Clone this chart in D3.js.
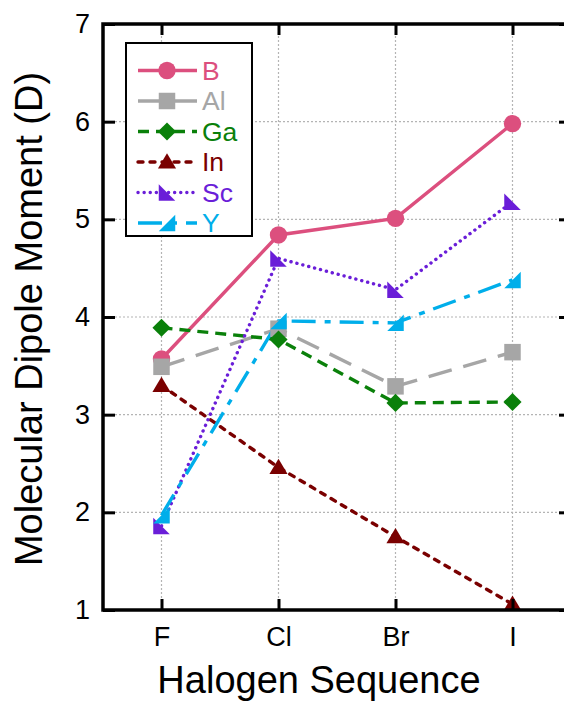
<!DOCTYPE html>
<html>
<head>
<meta charset="utf-8">
<script src="https://cdn.jsdelivr.net/npm/d3@7/dist/d3.min.js"></script>
<style>
  body { margin: 0; background: #fff; }
  svg { display: block; font-family: "Liberation Sans", Arial, sans-serif; }
</style>
</head>
<body>
<svg id="chart" width="564" height="706"></svg>
<script>
// Halogen sequence along the x axis
const halogens = ["F", "Cl", "Br", "I"];
const yTicks = [1, 2, 3, 4, 5, 6, 7];

// Molecular dipole moment (D) per central atom
const valuesB  = [3.57, 4.84, 5.01, 5.98];
const valuesAl = [3.49, 3.88, 3.29, 3.64];
const valuesGa = [3.89, 3.77, 3.12, 3.13];
const valuesIn = [3.30, 2.46, 1.75, 1.06];
const valuesSc = [1.86, 4.60, 4.28, 5.18];
const valuesY  = [1.97, 3.96, 3.94, 4.38];

const seriesNames = ["B", "Al", "Ga", "In", "Sc", "Y"];

const series = [
  { name: "B",  values: valuesB,  color: "#dc4f7e", dash: null,        cap: "butt",  marker: "circle" },
  { name: "Al", values: valuesAl, color: "#a6a6a6", dash: "24,12",     cap: "butt",  marker: "square" },
  { name: "Ga", values: valuesGa, color: "#0a800a", dash: "11,7",      cap: "butt",  marker: "diamond" },
  { name: "In", values: valuesIn, color: "#7a0000", dash: "5,7",       cap: "round", marker: "triUp" },
  { name: "Sc", values: valuesSc, color: "#6a1ed8", dash: "0.1,6",     cap: "round", marker: "triSW" },
  { name: "Y",  values: valuesY,  color: "#00aeea", dash: "24,9,6,9",  cap: "butt",  marker: "triSE" }
];

const svg = d3.select("#chart");
const plotLeft = 103, plotRight = 571, plotTop = 24, plotBottom = 610;

const x = d3.scaleLinear().domain([0.5, 4.5]).range([plotLeft, plotRight]);
const y = d3.scaleLinear().domain([1, 7]).range([plotBottom, plotTop]);

// dotted grid
const grid = svg.append("g").attr("stroke", "#b4b4b4").attr("stroke-width", 1.2)
  .attr("stroke-dasharray", "2,2");
halogens.forEach((h, i) => {
  grid.append("line").attr("x1", x(i + 1)).attr("x2", x(i + 1))
    .attr("y1", plotTop).attr("y2", plotBottom);
});
yTicks.slice(1, -1).forEach(v => {
  grid.append("line").attr("x1", plotLeft).attr("x2", plotRight)
    .attr("y1", y(v)).attr("y2", y(v));
});

// marker shapes
function markerPath(type, s) {
  const h = s / 2;
  switch (type) {
    case "square": return `M${-h},${-h}H${h}V${h}H${-h}Z`;
    case "diamond": { const d = s * 0.55; return `M0,${-d}L${d},0L0,${d}L${-d},0Z`; }
    case "triUp": return `M0,${-h * 1.05}L${h * 1.1},${h * 0.8}L${-h * 1.1},${h * 0.8}Z`;
    case "triSW": return `M${-h},${-h}L${-h},${h}L${h},${h}Z`;
    case "triSE": return `M${h},${-h}L${h},${h}L${-h},${h}Z`;
  }
  return null;
}
function drawMarker(g, s, cx, cy) {
  if (s.marker === "circle") {
    g.append("circle").attr("cx", cx).attr("cy", cy).attr("r", 8.7).attr("fill", s.color);
  } else {
    g.append("path").attr("d", markerPath(s.marker, 16.5))
      .attr("transform", `translate(${cx},${cy})`).attr("fill", s.color);
  }
}

// series lines and markers
const line = d3.line().x((d, i) => x(i + 1)).y(d => y(d));
const plot = svg.append("g");
series.forEach(s => {
  plot.append("path").datum(s.values).attr("d", line)
    .attr("fill", "none").attr("stroke", s.color).attr("stroke-width", 3.4)
    .attr("stroke-linecap", s.cap)
    .attr("stroke-dasharray", s.dash);
});
series.forEach(s => {
  s.values.forEach((v, i) => drawMarker(plot, s, x(i + 1), y(v)));
});

// frame and axes
const axes = svg.append("g").attr("stroke", "#000").attr("stroke-width", 3.5);
axes.append("rect").attr("x", plotLeft).attr("y", plotTop)
  .attr("width", plotRight - plotLeft).attr("height", plotBottom - plotTop).attr("fill", "none");

const xAxis = d3.axisBottom(x).tickValues([1, 2, 3, 4])
  .tickFormat((d) => halogens[d - 1]).tickSizeInner(-11).tickSizeOuter(0).tickPadding(17);
const xg = svg.append("g").attr("transform", `translate(0,${plotBottom})`).call(xAxis);
const xTop = d3.axisTop(x).tickValues([1, 2, 3, 4]).tickFormat("").tickSizeInner(-11).tickSizeOuter(0);
const xtg = svg.append("g").attr("transform", `translate(0,${plotTop})`).call(xTop);

const yAxis = d3.axisLeft(y).tickValues(yTicks).tickFormat(d3.format("d"))
  .tickSizeInner(-12).tickSizeOuter(0).tickPadding(13);
const yg = svg.append("g").attr("transform", `translate(${plotLeft},0)`).call(yAxis);
const yRight = d3.axisRight(y).tickValues(yTicks).tickFormat("").tickSizeInner(-12).tickSizeOuter(0);
const yrg = svg.append("g").attr("transform", `translate(${plotRight},0)`).call(yRight);

[xg, xtg, yg, yrg].forEach(g => {
  g.select(".domain").remove();
  g.selectAll(".tick line").attr("stroke", "#000").attr("stroke-width", 3);
  g.selectAll("text").attr("font-size", 27).attr("fill", "#000")
    .attr("font-family", "'Liberation Sans', Arial, sans-serif");
});

// axis titles
svg.append("text").attr("x", 319).attr("y", 693).attr("text-anchor", "middle")
  .attr("font-size", 38).attr("fill", "#000").text("Halogen Sequence");
svg.append("text").attr("transform", "translate(42,319) rotate(-90)")
  .attr("text-anchor", "middle").attr("font-size", 38).attr("fill", "#000")
  .text("Molecular Dipole Moment (D)");

// legend
const lg = svg.append("g");
lg.append("rect").attr("x", 126).attr("y", 43).attr("width", 126).attr("height", 193)
  .attr("fill", "#fff").attr("stroke", "#000").attr("stroke-width", 2);
series.forEach((s, i) => {
  const ly = 70.5 + i * 30.5;
  lg.append("line").attr("x1", 138).attr("x2", 197).attr("y1", ly).attr("y2", ly)
    .attr("stroke", s.color).attr("stroke-width", 3.4)
    .attr("stroke-linecap", s.cap).attr("stroke-dasharray", s.dash);
  drawMarker(lg, s, 167, ly);
  lg.append("text").attr("x", 202).attr("y", ly + 9).attr("font-size", 26.5)
    .attr("fill", s.color).text(seriesNames[i]);
});
</script>
</body>
</html>
